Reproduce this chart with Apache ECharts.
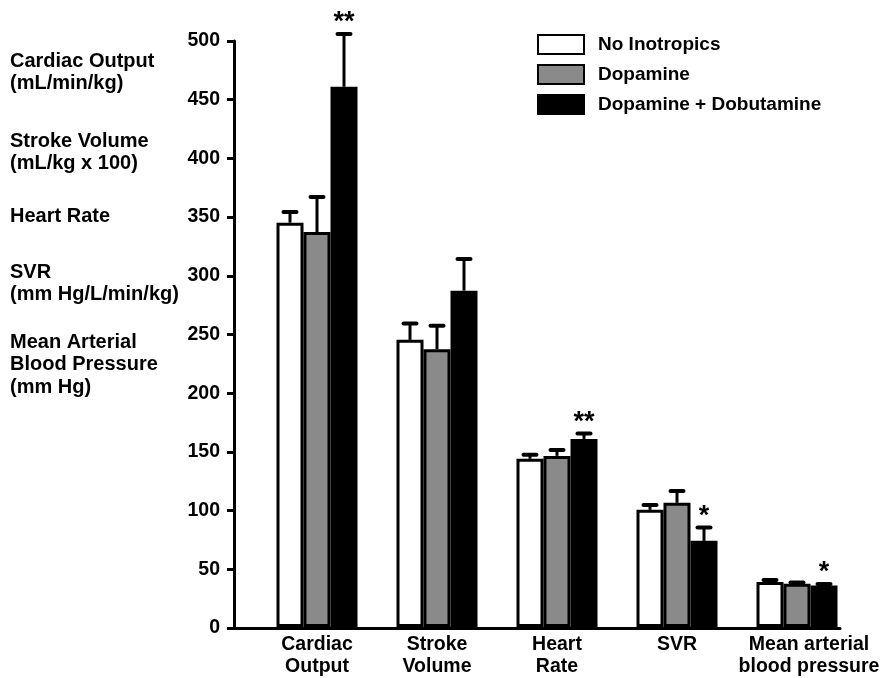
<!DOCTYPE html>
<html>
<head>
<meta charset="utf-8">
<script src="https://cdn.jsdelivr.net/npm/echarts@6/dist/echarts.min.js"></script>
<style>
html,body{margin:0;padding:0;background:#fff;}
#chart{width:884px;height:678px;}
</style>
</head>
<body>
<div id="chart"></div>
<script>
// ---- data ----
var categories = ['Cardiac\nOutput', 'Stroke\nVolume', 'Heart\nRate', 'SVR', 'Mean arterial\nblood pressure'];
var seriesNames = ['No Inotropics', 'Dopamine', 'Dopamine + Dobutamine'];
var noInotropics    = [345, 245, 143.5, 100, 38.5];
var noInotropicsErr = [9, 14, 3.5, 4, 1.5];
var dopamine        = [337, 237, 146, 106, 37];
var dopamineErr     = [30, 20, 5, 10, 1];
var dopDob          = [461, 287, 160.5, 73.5, 35.5];
var dopDobErr       = [45, 27, 4.5, 11.5, 1.2];
var significance    = ['**', '', '**', '*', '*'];
var yTicks = { min: 0, max: 500, interval: 50 };
var leftNotes = [
  'Cardiac Output\n(mL/min/kg)',
  'Stroke Volume\n(mL/kg x 100)',
  'Heart Rate',
  'SVR\n(mm Hg/L/min/kg)',
  'Mean Arterial\nBlood Pressure\n(mm Hg)'
];

// ---- styling ----
var FONT = '"Liberation Sans", Arial, Helvetica, sans-serif';
var BAR_W = 27;
var noteTops = [50, 130, 205, 261, 331];
var fills = ['#ffffff', '#8a8a8a', '#000000'];

var chart = echarts.init(document.getElementById('chart'), null, { renderer: 'canvas' });

var catData = categories.map(function (c, i) {
  if (i === categories.length - 1) {
    return { value: c, textStyle: { padding: [0, 0, 0, 24] } };
  }
  return c;
});

function errSeries(k, vals, errs, sig) {
  var data = vals.map(function (v, i) { return [i, v, errs[i]]; });
  return {
    type: 'custom',
    xAxisIndex: 0, yAxisIndex: 0,
    z: 10,
    silent: true,
    data: data,
    renderItem: function (params, api) {
      var i = api.value(0), v = api.value(1), e = api.value(2);
      var p0 = api.coord([i, v]);
      var p1 = api.coord([i, v + e]);
      var x = p0[0] + k * BAR_W;
      var children = [
        { type: 'line', shape: { x1: x, y1: p0[1], x2: x, y2: p1[1] },
          style: { stroke: '#000', lineWidth: 3 } },
        { type: 'line', shape: { x1: x - 6.5, y1: p1[1], x2: x + 6.5, y2: p1[1] },
          style: { stroke: '#000', lineWidth: 4, lineCap: 'round' } }
      ];
      if (sig && sig[i]) {
        children.push({ type: 'text', x: x, y: p1[1] - 11,
          style: { text: sig[i], fill: '#000', font: 'bold 27px ' + FONT,
                   align: 'center', verticalAlign: 'middle' } });
      }
      return { type: 'group', children: children };
    }
  };
}

function barSeries(idx, vals) {
  return {
    name: seriesNames[idx],
    type: 'bar',
    xAxisIndex: 0, yAxisIndex: 0,
    barWidth: BAR_W,
    barGap: '0%',
    data: vals,
    itemStyle: { color: fills[idx], borderColor: '#000', borderWidth: 3 },
    emphasis: { disabled: true }
  };
}

var option = {
  animation: false,
  backgroundColor: '#ffffff',
  textStyle: { fontFamily: FONT },
  legend: {
    orient: 'vertical',
    left: 532, top: 29,
    itemWidth: 46, itemHeight: 19, itemGap: 9,
    icon: 'rect',
    data: seriesNames,
    textStyle: { fontSize: 19, fontWeight: 'bold', color: '#000', fontFamily: FONT, padding: [0, 0, 0, 9] }
  },
  graphic: leftNotes.map(function (t, i) {
    return { type: 'text', left: 10, top: noteTops[i],
      style: { text: t, font: 'bold 20px ' + FONT, lineHeight: 22.5, fill: '#000' } };
  }),
  grid: [
    { left: 257, right: 27, top: 41, bottom: 50 },
    { left: 234, right: 44, top: 41, bottom: 50 }
  ],
  xAxis: [
    { gridIndex: 0, type: 'category', data: catData,
      axisLine: { show: false }, axisTick: { show: false },
      axisLabel: { interval: 0, margin: 7, fontSize: 19.5, fontWeight: 'bold', color: '#000', lineHeight: 22, fontFamily: FONT } },
    { gridIndex: 1, type: 'value', min: 0, max: 1,
      axisLine: { show: true, lineStyle: { color: '#000', width: 3 } },
      axisTick: { show: false }, axisLabel: { show: false }, splitLine: { show: false } }
  ],
  yAxis: [
    { gridIndex: 0, type: 'value', min: yTicks.min, max: yTicks.max, show: false },
    { gridIndex: 1, type: 'value', min: yTicks.min, max: yTicks.max, interval: yTicks.interval,
      axisLine: { show: true, lineStyle: { color: '#000', width: 3 } },
      axisTick: { show: true, length: 7, lineStyle: { color: '#000', width: 3 } },
      axisLabel: { margin: 14, fontSize: 19.5, fontWeight: 'bold', color: '#000', fontFamily: FONT },
      splitLine: { show: false } }
  ],
  series: [
    barSeries(0, noInotropics),
    barSeries(1, dopamine),
    barSeries(2, dopDob),
    errSeries(-1, noInotropics, noInotropicsErr, null),
    errSeries(0, dopamine, dopamineErr, null),
    errSeries(1, dopDob, dopDobErr, significance)
  ]
};
chart.setOption(option);
</script>
</body>
</html>
